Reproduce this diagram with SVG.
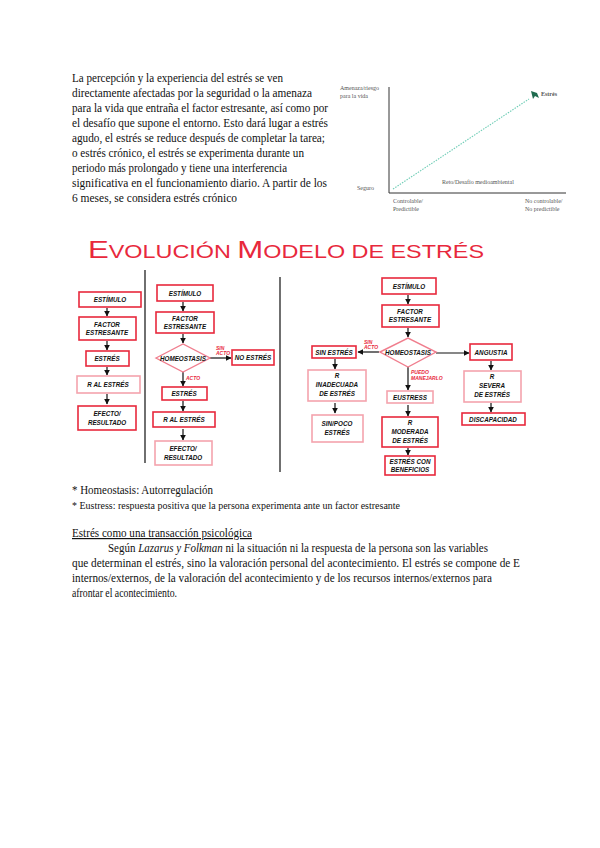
<svg xmlns="http://www.w3.org/2000/svg" width="600" height="848" viewBox="0 0 600 848">
<defs>
<style>
.body{font-family:"Liberation Serif","Times New Roman",serif;font-size:12px;fill:#111}
.small{font-family:"Liberation Serif","Times New Roman",serif;font-size:10.5px;fill:#111}
.ch{font-family:"Liberation Serif",serif;font-size:6px;fill:#555}
.box{fill:#fff;stroke:#e8283c;stroke-width:1.6}
.boxl{fill:#fff;stroke:#f4a3ad;stroke-width:1.6}
.dia{fill:#fff;stroke:#f07e8e;stroke-width:1.4}
.h{font-family:"Liberation Sans",Arial,sans-serif;font-size:6.3px;font-weight:bold;font-style:italic;fill:#111;text-anchor:middle}
.hr{font-family:"Liberation Sans",Arial,sans-serif;font-size:5px;font-weight:bold;font-style:italic;fill:#e8283c}
.ar{stroke:#111;stroke-width:1.2;fill:none;marker-end:url(#ah)}
.div{stroke:#333;stroke-width:1.4}
</style>
<marker id="ah" viewBox="0 0 10 10" refX="9" refY="5" markerWidth="5" markerHeight="5" orient="auto"><path d="M0,0 L10,5 L0,10 z" fill="#111"/></marker>
</defs>
<rect width="600" height="848" fill="#fff"/>

<g id="intro">
<text class="body" x="72" y="82" textLength="211" lengthAdjust="spacingAndGlyphs">La percepción y la experiencia del estrés se ven</text>
<text class="body" x="72" y="97" textLength="240" lengthAdjust="spacingAndGlyphs">directamente afectadas por la seguridad o la amenaza</text>
<text class="body" x="72" y="112" textLength="256" lengthAdjust="spacingAndGlyphs">para la vida que entraña el factor estresante, así como por</text>
<text class="body" x="72" y="127" textLength="256" lengthAdjust="spacingAndGlyphs">el desafío que supone el entorno. Esto dará lugar a estrés</text>
<text class="body" x="72" y="142" textLength="253" lengthAdjust="spacingAndGlyphs">agudo, el estrés se reduce después de completar la tarea;</text>
<text class="body" x="72" y="157" textLength="232" lengthAdjust="spacingAndGlyphs">o estrés crónico, el estrés se experimenta durante un</text>
<text class="body" x="72" y="172" textLength="215" lengthAdjust="spacingAndGlyphs">periodo más prolongado y tiene una interferencia</text>
<text class="body" x="72" y="187" textLength="255" lengthAdjust="spacingAndGlyphs">significativa en el funcionamiento diario. A partir de los</text>
<text class="body" x="72" y="202" textLength="165" lengthAdjust="spacingAndGlyphs">6 meses, se considera estrés crónico</text>
</g>

<g id="chart">
<line x1="389" y1="87" x2="389" y2="193" stroke="#333" stroke-width="1"/>
<line x1="389" y1="193" x2="566" y2="193" stroke="#333" stroke-width="1"/>
<line x1="393" y1="189" x2="529" y2="99" stroke="#6fcdb6" stroke-width="1.1" stroke-dasharray="1.5,1.2"/>
<path d="M531,91 L537,93 L539,98 L535,96 L533,99 Z" fill="#1f6b4f"/>
<text class="ch" x="541" y="96" font-weight="bold" fill="#333">Estrés</text>
<text class="ch" x="340" y="90">Amenaza/riesgo</text>
<text class="ch" x="340" y="98">para la vida</text>
<text class="ch" x="357" y="190">Seguro</text>
<text class="ch" x="442" y="184">Reto/Desafío medioambiental</text>
<text class="ch" x="393" y="203">Controlable/</text>
<text class="ch" x="393" y="211">Predictible</text>
<text class="ch" x="525" y="203">No controlable/</text>
<text class="ch" x="525" y="211">No predictible</text>
</g>

<g id="title">
<text x="88" y="258" font-family="Liberation Sans,Arial,sans-serif" fill="#e8283c" textLength="396" lengthAdjust="spacingAndGlyphs"><tspan font-size="24">E</tspan><tspan font-size="18">VOLUCIÓN  </tspan><tspan font-size="24">M</tspan><tspan font-size="18">ODELO DE ESTRÉS</tspan></text>
</g>

<g id="dividers">
<line class="div" x1="145" y1="270" x2="145" y2="463"/>
<line class="div" x1="280" y1="277" x2="280" y2="472"/>
</g>

<g id="connectors">
<line class="ar" x1="107" y1="308" x2="107" y2="316"/>
<line class="ar" x1="107" y1="341" x2="107" y2="350"/>
<line class="ar" x1="107" y1="367" x2="107" y2="375"/>
<line class="ar" x1="107" y1="394" x2="107" y2="404"/>

<line class="ar" x1="183" y1="302" x2="183" y2="311"/>
<line class="ar" x1="183" y1="334" x2="183" y2="343"/>
<line class="ar" x1="210" y1="358" x2="231" y2="358"/>
<line class="ar" x1="183" y1="372" x2="183" y2="386"/>
<line class="ar" x1="183" y1="401" x2="183" y2="411"/>
<line class="ar" x1="183" y1="429" x2="183" y2="440"/>

<line class="ar" x1="408" y1="295" x2="408" y2="304"/>
<line class="ar" x1="408" y1="328" x2="408" y2="337"/>
<line class="ar" x1="379" y1="352" x2="358" y2="352"/>
<line class="ar" x1="436" y1="353" x2="469" y2="353"/>
<line class="ar" x1="408" y1="367" x2="408" y2="390"/>
<line class="ar" x1="335" y1="359" x2="335" y2="369"/>
<line class="ar" x1="335" y1="403" x2="335" y2="413"/>
<line class="ar" x1="408" y1="405" x2="408" y2="416"/>
<line class="ar" x1="408" y1="448" x2="408" y2="455"/>
<line class="ar" x1="491" y1="361" x2="491" y2="370"/>
<line class="ar" x1="491" y1="403" x2="491" y2="412"/>

<text class="hr" x="216" y="350">SIN</text>
<text class="hr" x="216" y="355">ACTO</text>
<text class="hr" x="186" y="380">ACTO</text>
<text class="hr" x="364" y="344">SIN</text>
<text class="hr" x="364" y="349">ACTO</text>
<text class="hr" x="411" y="374">PUEDO</text>
<text class="hr" x="411" y="380">MANEJARLO</text>
</g>

<g id="c1-estimulo"><rect class="box" x="79" y="292" width="62" height="15"/><text class="h" x="110" y="302">ESTÍMULO</text></g>
<g id="c1-factor"><rect class="box" x="79" y="317" width="57" height="23"/><text class="h" x="107" y="327">FACTOR</text><text class="h" x="107" y="335">ESTRESANTE</text></g>
<g id="c1-estres"><rect class="box" x="86" y="351" width="43" height="15"/><text class="h" x="107" y="361">ESTRÉS</text></g>
<g id="c1-respuesta"><rect class="boxl" x="77" y="376" width="63" height="17"/><text class="h" x="108" y="387">R AL ESTRÉS</text></g>
<g id="c1-efecto"><rect class="box" x="78" y="406" width="58" height="24"/><text class="h" x="107" y="416">EFECTO/</text><text class="h" x="107" y="425">RESULTADO</text></g>

<g id="c2-estimulo"><rect class="box" x="157" y="285" width="56" height="16"/><text class="h" x="185" y="295.5">ESTÍMULO</text></g>
<g id="c2-factor"><rect class="box" x="156" y="312" width="58" height="21"/><text class="h" x="185" y="321">FACTOR</text><text class="h" x="185" y="329">ESTRESANTE</text></g>
<g id="c2-homeostasis"><polygon class="dia" points="156,358 183,344 210,358 183,372"/><text class="h" x="183" y="360.5" font-size="5.2">HOMEOSTASIS</text></g>
<g id="c2-noestres"><rect class="box" x="232" y="350" width="42" height="15"/><text class="h" x="253" y="360">NO ESTRÉS</text></g>
<g id="c2-estres"><rect class="box" x="162" y="387" width="45" height="13"/><text class="h" x="184" y="396">ESTRÉS</text></g>
<g id="c2-respuesta"><rect class="box" x="153" y="412" width="62" height="15"/><text class="h" x="184" y="422">R AL ESTRÉS</text></g>
<g id="c2-efecto"><rect class="boxl" x="155" y="441" width="57" height="24"/><text class="h" x="183" y="451">EFECTO/</text><text class="h" x="183" y="460">RESULTADO</text></g>

<g id="c3-estimulo"><rect class="box" x="382" y="278" width="54" height="16"/><text class="h" x="409" y="288.5">ESTÍMULO</text></g>
<g id="c3-factor"><rect class="box" x="382" y="305" width="57" height="22"/><text class="h" x="410" y="314">FACTOR</text><text class="h" x="410" y="322">ESTRESANTE</text></g>
<g id="c3-homeostasis"><polygon class="dia" points="380,352 408,338 436,352 408,367"/><text class="h" x="408" y="354.5" font-size="5.2">HOMEOSTASIS</text></g>
<g id="c3-sinestres"><rect class="box" x="312" y="346" width="44" height="12"/><text class="h" x="334" y="354.5">SIN ESTRÉS</text></g>
<g id="c3-inadecuada"><rect class="boxl" x="308" y="370" width="58" height="31"/><text class="h" x="337" y="378">R</text><text class="h" x="337" y="387">INADECUADA</text><text class="h" x="337" y="396">DE ESTRÉS</text></g>
<g id="c3-sinpoco"><rect class="boxl" x="312" y="415" width="51" height="27"/><text class="h" x="337" y="426">SIN/POCO</text><text class="h" x="337" y="435">ESTRÉS</text></g>
<g id="c3-eustress"><rect class="boxl" x="387" y="391" width="46" height="12"/><text class="h" x="410" y="399.5">EUSTRESS</text></g>
<g id="c3-moderada"><rect class="box" x="382" y="417" width="56" height="30"/><text class="h" x="410" y="425">R</text><text class="h" x="410" y="434">MODERADA</text><text class="h" x="410" y="443">DE ESTRÉS</text></g>
<g id="c3-beneficios"><rect class="box" x="385" y="456" width="50" height="19"/><text class="h" x="410" y="464">ESTRÉS CON</text><text class="h" x="410" y="472">BENEFICIOS</text></g>
<g id="c3-angustia"><rect class="box" x="470" y="344" width="42" height="16"/><text class="h" x="491" y="354.5">ANGUSTIA</text></g>
<g id="c3-severa"><rect class="boxl" x="464" y="371" width="57" height="31"/><text class="h" x="492" y="379">R</text><text class="h" x="492" y="388">SEVERA</text><text class="h" x="492" y="397">DE ESTRÉS</text></g>
<g id="c3-discapacidad"><rect class="box" x="462" y="413" width="63" height="12"/><text class="h" x="493" y="421.5">DISCAPACIDAD</text></g>

<g id="notes">
<text class="body" x="72" y="494" textLength="141" lengthAdjust="spacingAndGlyphs">* Homeostasis: Autorregulación</text>
<text class="small" x="72" y="509" textLength="328" lengthAdjust="spacingAndGlyphs">* Eustress: respuesta positiva que la persona experimenta ante un factor estresante</text>
<text class="body" x="72" y="537" textLength="180" lengthAdjust="spacingAndGlyphs" text-decoration="underline">Estrés como una transacción psicológica</text>
<text class="body" x="108" y="552" textLength="380" lengthAdjust="spacingAndGlyphs">Según <tspan font-style="italic">Lazarus y Folkman</tspan> ni la situación ni la respuesta de la persona son las variables</text>
<text class="body" x="72" y="567" textLength="448" lengthAdjust="spacingAndGlyphs">que determinan el estrés, sino la valoración personal del acontecimiento. El estrés se compone de E</text>
<text class="body" x="72" y="582" textLength="420" lengthAdjust="spacingAndGlyphs">internos/externos, de la valoración del acontecimiento y de los recursos internos/externos para</text>
<text class="body" x="72" y="597" textLength="105" lengthAdjust="spacingAndGlyphs">afrontar el acontecimiento.</text>
</g>
</svg>
